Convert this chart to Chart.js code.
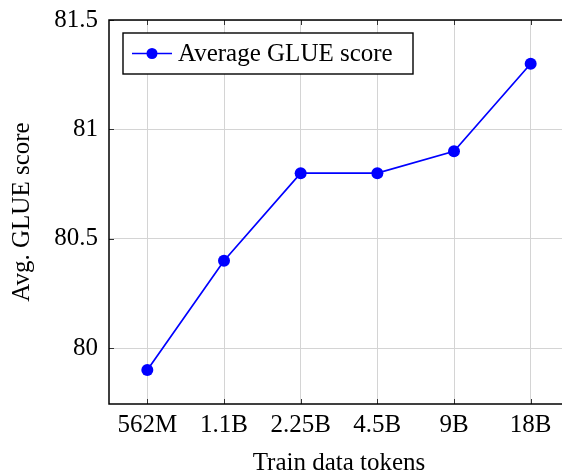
<!DOCTYPE html>
<html>
<head>
<meta charset="utf-8">
<script src="https://cdn.jsdelivr.net/npm/chart.js@4.4.1/dist/chart.umd.min.js"></script>
<style>
  html, body { margin: 0; padding: 0; background: #fff; overflow: hidden; }
  #wrap { width: 562px; height: 470px; overflow: hidden; }
</style>
</head>
<body>
<div id="wrap"><canvas id="myChart" width="575" height="470"></canvas></div>
<script>
const TOKENS = ['562M', '1.1B', '2.25B', '4.5B', '9B', '18B'];
const GLUE_SCORES = [79.9, 80.4, 80.8, 80.8, 80.9, 81.3];
const Y_MIN = 79.745;
const Y_MAX = 81.5;
const Y_STEP = 0.5;

const SERIF = "'Liberation Serif', 'Times New Roman', serif";
const CHART = document.getElementById('myChart');

// frame, inward tick marks and boxed legend (pgfplots look)
const pgfLook = {
    id: 'pgfLook',
    afterDraw(chart) {
        const ctx = chart.ctx;
        const a = chart.chartArea;
        const xs = chart.scales.x;
        const ys = chart.scales.y;
        ctx.save();

        ctx.strokeStyle = '#333';
        ctx.lineWidth = 1;
        ctx.beginPath();
        ys.ticks.forEach(t => {
            const py = Math.round(ys.getPixelForValue(t.value)) + 0.5;
            ctx.moveTo(a.left, py); ctx.lineTo(a.left + 5, py);
            ctx.moveTo(a.right, py); ctx.lineTo(a.right - 5, py);
        });
        xs.ticks.forEach((t, i) => {
            const px = Math.round(xs.getPixelForTick(i)) + 0.5;
            ctx.moveTo(px, a.bottom); ctx.lineTo(px, a.bottom - 5);
            ctx.moveTo(px, a.top); ctx.lineTo(px, a.top + 5);
        });
        ctx.stroke();

        ctx.strokeStyle = '#000';
        ctx.lineWidth = 1.5;
        ctx.strokeRect(a.left, a.top, a.right - a.left, a.bottom - a.top);

        // legend
        const ds = chart.data.datasets[0];
        const bx = 123, by = 33, bw = 290, bh = 41;
        ctx.fillStyle = '#fff';
        ctx.fillRect(bx, by, bw, bh);
        ctx.lineWidth = 1.4;
        ctx.strokeStyle = '#000';
        ctx.strokeRect(bx, by, bw, bh);
        const cy = by + bh / 2;
        ctx.strokeStyle = ds.borderColor;
        ctx.lineWidth = 1.7;
        ctx.beginPath();
        ctx.moveTo(132, cy); ctx.lineTo(172, cy);
        ctx.stroke();
        ctx.fillStyle = ds.backgroundColor;
        ctx.beginPath();
        ctx.arc(152, cy, 5.5, 0, Math.PI * 2);
        ctx.fill();
        ctx.fillStyle = '#000';
        ctx.font = '25px ' + SERIF;
        ctx.textBaseline = 'alphabetic';
        ctx.textAlign = 'left';
        ctx.fillText(ds.label, 178, 61);
        ctx.restore();
    }
};

const myChart = new Chart(CHART, {
    type: 'line',
    data: {
        labels: TOKENS,
        datasets: [{
            label: 'Average GLUE score',
            data: GLUE_SCORES,
            borderColor: '#0000ff',
            backgroundColor: '#0000ff',
            borderWidth: 1.7,
            pointRadius: 6,
            pointHoverRadius: 6,
            pointBorderWidth: 0,
            tension: 0
        }]
    },
    options: {
        responsive: false,
        animation: false,
        layout: { padding: { top: 20, left: 0, right: 3, bottom: 0 } },
        plugins: {
            legend: { display: false },
            tooltip: { enabled: false }
        },
        scales: {
            x: {
                type: 'category',
                offset: true,
                grid: { color: '#d4d4d4', lineWidth: 1, drawTicks: false, offset: false },
                border: { display: false },
                ticks: {
                    color: '#000',
                    font: { family: SERIF, size: 25 },
                    padding: 6,
                    maxRotation: 0,
                    autoSkip: false
                },
                title: {
                    display: true,
                    text: 'Train data tokens',
                    color: '#000',
                    font: { family: SERIF, size: 25, lineHeight: 0.7 },
                    padding: { top: 0, bottom: -2 }
                },
                afterFit(scale) {
                    scale.height = 66;
                    scale.paddingLeft = 0;
                    scale.paddingRight = 0;
                }
            },
            y: {
                min: Y_MIN,
                max: Y_MAX,
                grid: { color: '#d4d4d4', lineWidth: 1, drawTicks: false },
                border: { display: false },
                ticks: {
                    stepSize: Y_STEP,
                    includeBounds: false,
                    color: '#000',
                    font: { family: SERIF, size: 25 },
                    padding: 11,
                    callback: v => String(Math.round(v * 10) / 10)
                },
                title: {
                    display: true,
                    text: 'Avg. GLUE score',
                    color: '#000',
                    font: { family: SERIF, size: 25 },
                    padding: { top: 7, bottom: 0 }
                },
                afterFit(scale) {
                    scale.width = 109;
                    scale.paddingTop = 0;
                    scale.paddingBottom = 0;
                }
            }
        }
    },
    plugins: [pgfLook]
});
</script>
</body>
</html>
